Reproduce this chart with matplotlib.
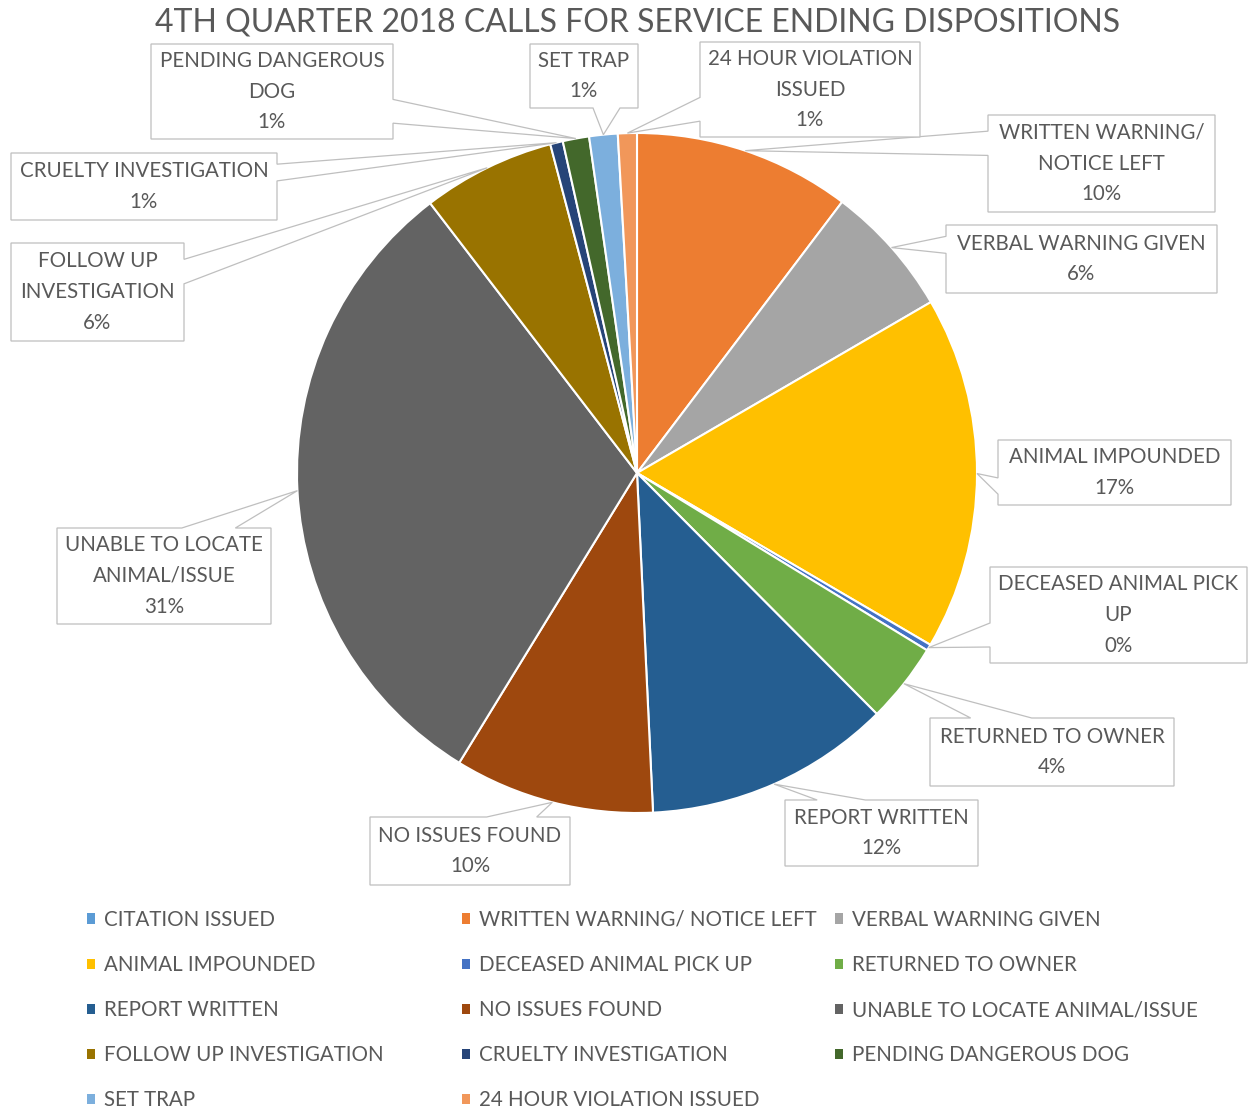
import matplotlib
matplotlib.use('Agg')
import matplotlib.pyplot as plt
from matplotlib.patches import Polygon, Patch
from matplotlib.legend import Legend
import numpy as np

plt.rcParams['font.family'] = ['Lato', 'DejaVu Sans']

# data
title = '4TH QUARTER 2018 CALLS FOR SERVICE ENDING DISPOSITIONS'
names = ['CITATION ISSUED', 'WRITTEN WARNING/ NOTICE LEFT', 'VERBAL WARNING GIVEN',
         'ANIMAL IMPOUNDED', 'DECEASED ANIMAL PICK UP', 'RETURNED TO OWNER',
         'REPORT WRITTEN', 'NO ISSUES FOUND', 'UNABLE TO LOCATE ANIMAL/ISSUE',
         'FOLLOW UP INVESTIGATION', 'CRUELTY INVESTIGATION', 'PENDING DANGEROUS DOG',
         'SET TRAP', '24 HOUR VIOLATION ISSUED']
values = [0.0, 10.3, 6.3, 16.8, 0.3, 3.8, 11.7, 9.5, 30.8, 6.3, 0.6, 1.25, 1.35, 0.9]
colors = ['#5B9BD5', '#ED7D31', '#A5A5A5', '#FFC000', '#4472C4', '#70AD47',
          '#255E91', '#9E480E', '#636363', '#997300', '#264478', '#43682B',
          '#7CAFDD', '#F1975A']

# callout layout: wrapped text and box (left, top, right, bottom) in image pixels
callouts = {
    'WRITTEN WARNING/ NOTICE LEFT': ('WRITTEN WARNING/\nNOTICE LEFT', (988, 115, 1215, 212)),
    'VERBAL WARNING GIVEN': ('VERBAL WARNING GIVEN', (946, 225, 1217, 293)),
    'ANIMAL IMPOUNDED': ('ANIMAL IMPOUNDED', (998, 440, 1231, 505)),
    'DECEASED ANIMAL PICK UP': ('DECEASED ANIMAL PICK\nUP', (990, 567, 1247, 663)),
    'RETURNED TO OWNER': ('RETURNED TO OWNER', (930, 718, 1174, 786)),
    'REPORT WRITTEN': ('REPORT WRITTEN', (785, 800, 978, 866)),
    'NO ISSUES FOUND': ('NO ISSUES FOUND', (370, 817, 570, 885)),
    'UNABLE TO LOCATE ANIMAL/ISSUE': ('UNABLE TO LOCATE\nANIMAL/ISSUE', (57, 528, 271, 624)),
    'FOLLOW UP INVESTIGATION': ('FOLLOW UP\nINVESTIGATION', (11, 243, 184, 341)),
    'CRUELTY INVESTIGATION': ('CRUELTY INVESTIGATION', (11, 153, 277, 220)),
    'PENDING DANGEROUS DOG': ('PENDING DANGEROUS\nDOG', (151, 44, 393, 139)),
    'SET TRAP': ('SET TRAP', (530, 44, 638, 108)),
    '24 HOUR VIOLATION ISSUED': ('24 HOUR VIOLATION\nISSUED', (700, 42, 920, 137)),
}

W, H = 1249, 1113
CX, CY, R = 637, 473, 340
GRAY = '#595959'
LINE = '#BFBFBF'
FS = 14.8


def callout_shape(box, tip):
    # excel wedgeRectCallout geometry, image coords (y down)
    l, t, r, b = box
    w, h = r - l, b - t
    dx = tip[0] - (l + r) / 2
    dy = tip[1] - (t + b) / 2
    dz = abs(dy) - abs(dx * h / w)
    if dz > 0:
        g = (7, 10) if dx > 0 else (2, 5)
        x1, x2 = l + w * g[0] / 12, l + w * g[1] / 12
        if dy < 0:
            pts = [(l, t), (x1, t), tip, (x2, t), (r, t), (r, b), (l, b)]
        else:
            pts = [(l, t), (r, t), (r, b), (x2, b), tip, (x1, b), (l, b)]
    else:
        g = (7, 10) if dy > 0 else (2, 5)
        y1, y2 = t + h * g[0] / 12, t + h * g[1] / 12
        if dx < 0:
            pts = [(l, t), (r, t), (r, b), (l, b), (l, y2), tip, (l, y1)]
        else:
            pts = [(l, t), (r, t), (r, y1), tip, (r, y2), (r, b), (l, b)]
    return [(x, H - y) for x, y in pts]


fig = plt.figure(figsize=(W / 100, H / 100), dpi=100)
ax = fig.add_axes([0, 0, 1, 1])

wedges, _ = ax.pie(values, colors=colors, startangle=90, counterclock=False,
                   radius=R, center=(CX, H - CY),
                   wedgeprops=dict(edgecolor='white', linewidth=1.5))
ax.set_xlim(0, W)
ax.set_ylim(0, H)
ax.set_aspect('equal')
ax.axis('off')

total = sum(values)
for name, val, wdg in zip(names, values, wedges):
    if name not in callouts:
        continue
    text, box = callouts[name]
    ang = np.deg2rad((wdg.theta1 + wdg.theta2) / 2)
    tip = (CX + R * np.cos(ang), CY - R * np.sin(ang))
    poly = Polygon(callout_shape(box, tip), closed=True, facecolor='white',
                   edgecolor=LINE, linewidth=0.9, zorder=3)
    ax.add_patch(poly)
    pct = '{:.0f}%'.format(val / total * 100)
    l, t, r, b = box
    ax.text((l + r) / 2, H - (t + b) / 2, text + '\n' + pct, ha='center', va='center',
            multialignment='center', fontsize=FS, color=GRAY, linespacing=1.66, zorder=4)

ax.text(638, H - 23, title, ha='center', va='center', fontsize=23, color=GRAY)

# legend: three fixed-width columns filled row by row
handles = [Patch(facecolor=w.get_facecolor()) for w in wedges]
col_x = [87, 462, 835]
for c in range(3):
    leg = Legend(ax, handles[c::3], names[c::3], loc='upper left',
                 bbox_to_anchor=(col_x[c], H - 910), bbox_transform=ax.transData,
                 frameon=False, fontsize=FS, labelcolor=GRAY, borderpad=0,
                 borderaxespad=0, handlelength=0.4, handleheight=0.4,
                 handletextpad=0.45, labelspacing=1.22)
    ax.add_artist(leg)

fig.savefig('out.png', dpi=100)
